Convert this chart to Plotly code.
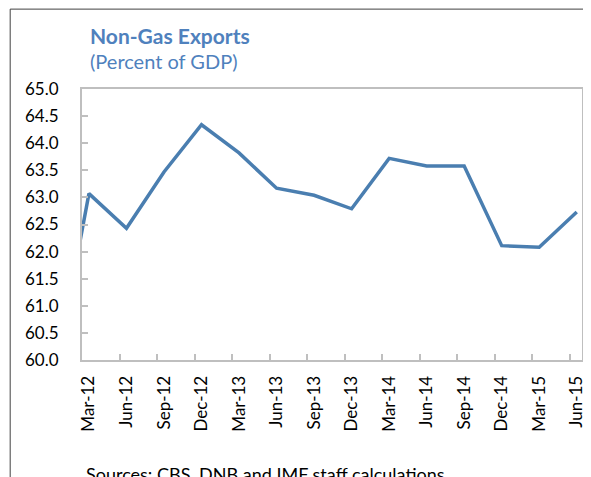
import plotly.graph_objects as go

# ---- data ----
categories = ["Dec-11", "Mar-12", "Jun-12", "Sep-12", "Dec-12", "Mar-13", "Jun-13", "Sep-13",
              "Dec-13", "Mar-14", "Jun-14", "Sep-14", "Dec-14", "Mar-15", "Jun-15"]
values = [59.36, 63.07, 62.43, 63.47, 64.34, 63.82, 63.17, 63.04,
          62.79, 63.72, 63.58, 63.58, 62.11, 62.08, 62.73]
tick_labels = categories[1:]
y_ticks = [60.0, 60.5, 61.0, 61.5, 62.0, 62.5, 63.0, 63.5, 64.0, 64.5, 65.0]

title = "Non-Gas Exports"
subtitle = "(Percent of GDP)"
source = "Sources: CBS, DNB and IMF staff calculations"

# ---- layout geometry (page pixels; the page body adds an 8px offset) ----
OFF = 8
W, H = 591 - OFF, 477 - OFF
plot_left, plot_right, plot_top, plot_bottom = 82, 586.7, 89.3, 360  # page px
L = plot_left - OFF
R = W - (plot_right - OFF)
T = plot_top - OFF
B = H - (plot_bottom - OFF)
pw, ph = W - L - R, H - T - B
x_lo, x_hi = -0.185, 13.14

def px(x):
    return (x - OFF - L) / pw

def py(y):
    return (H - B - (y - OFF)) / ph

blue_text = "#4F81BD"
blue_line = "#4A7EB0"
axis_grey = "#BFBFBF"
font_family = "Lato, 'Open Sans', sans-serif"

xs = list(range(-1, len(tick_labels)))  # Dec-11 sits at -1 (clipped), then 0..13

fig = go.Figure()
fig.add_trace(go.Scatter(
    x=xs, y=values, mode="lines",
    line=dict(color=blue_line, width=3.5),
    hoverinfo="skip", showlegend=False,
))
# invisible trace to activate the tick-mark axis
fig.add_trace(go.Scatter(
    x=[0], y=[60], xaxis="x2", mode="markers",
    marker=dict(opacity=0), hoverinfo="skip", showlegend=False,
))

fig.update_layout(
    width=W, height=H,
    margin=dict(l=L, r=R, t=T, b=B, pad=0),
    paper_bgcolor="white", plot_bgcolor="white",
    font=dict(family=font_family, size=17, color="#000000"),
    xaxis=dict(
        range=[x_lo, x_hi],
        tickmode="array",
        tickvals=list(range(len(tick_labels))),
        ticktext=tick_labels,
        tickangle=-90,
        ticks="",
        showgrid=False, zeroline=False,
        showline=True, linecolor=axis_grey, linewidth=2, mirror=True,
        tickfont=dict(size=17),
        ticklabelstandoff=7,
    ),
    xaxis2=dict(
        overlaying="x", matches="x", anchor="y",
        range=[x_lo, x_hi],
        tickmode="array",
        tickvals=[x_lo + j for j in range(1, len(tick_labels))],
        ticks="inside", ticklen=6, tickwidth=1.5, tickcolor=axis_grey,
        showticklabels=False, showgrid=False, zeroline=False, showline=False,
    ),
    yaxis=dict(
        range=[60, 65],
        tickmode="array",
        tickvals=y_ticks,
        ticktext=[f"{v:.1f}" for v in y_ticks],
        ticks="inside", ticklen=6, tickwidth=1.5, tickcolor=axis_grey,
        showgrid=False, zeroline=False,
        showline=True, linecolor=axis_grey, linewidth=2, mirror=True,
        tickfont=dict(size=17),
        ticklabelstandoff=18,
    ),
    shapes=[
        dict(type="rect", xref="paper", yref="paper",
             x0=px(9.5), y0=py(700), x1=px(800), y1=py(9.5),
             line=dict(color="#404040", width=1), fillcolor="rgba(0,0,0,0)",
             layer="below"),
    ],
    annotations=[
        dict(text=f"<b>{title}</b>", xref="paper", yref="paper",
             x=px(88), y=py(21), xanchor="left", yanchor="top",
             showarrow=False, font=dict(size=21, color=blue_text)),
        dict(text=subtitle, xref="paper", yref="paper",
             x=px(88), y=py(47), xanchor="left", yanchor="top",
             showarrow=False, font=dict(size=20, color=blue_text)),
        dict(text=source, xref="paper", yref="paper",
             x=px(84), y=py(461), xanchor="left", yanchor="top",
             showarrow=False, font=dict(size=18, color="#000000")),
    ],
)

fig.write_html("out.html")
